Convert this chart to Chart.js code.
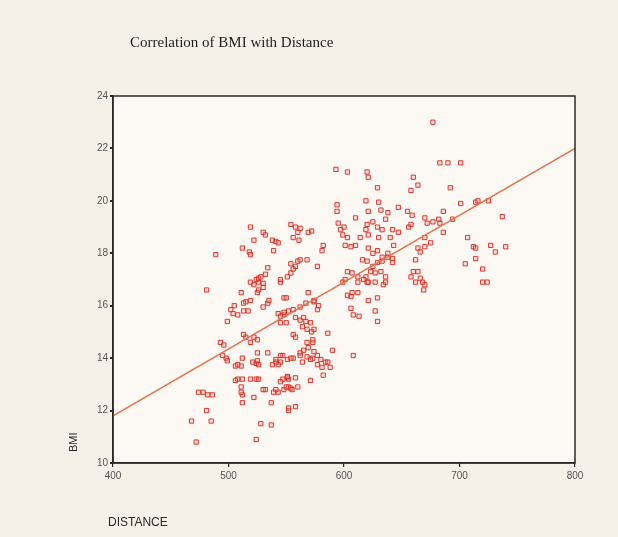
<!DOCTYPE html>
<html>
<head>
<meta charset="utf-8">
<script src="https://cdn.jsdelivr.net/npm/chart.js@4.4.0/dist/chart.umd.min.js"></script>
<style>
  html, body { margin: 0; padding: 0; background: #f6f1e8; }
  #wrap { position: relative; width: 618px; height: 537px; }
  canvas { display: block; }
</style>
</head>
<body>
<div id="wrap"><canvas id="c" width="618" height="537"></canvas></div>
<script>
const chartTitle = "Correlation of BMI with Distance";
const xAxisTitle = "DISTANCE";
const yAxisTitle = "BMI";
const xTicks = [400, 500, 600, 700, 800];
const yTicks = [10, 12, 14, 16, 18, 20, 22, 24];

const distance = [
  481,472,468,485,481,474,478,482,486,493,496,498,499,506,511,508,512,511,512,512,
  522,521,524,526,525,519,524,526,515,519,525,525,534,512,532,537,528,537,524,543,
  548,552,545,543,551,547,552,552,543,548,545,499,505,504,508,515,519,517,530,534,
  535,519,526,525,530,545,
  599,603,607,606,612,621,629,634,627,620,606,608,613,627,629,569,574,577,567,562,
  548,552,556,545,550,562,567,564,571,574,556,586,590,608,568,573,569,565,574,562,
  568,573,577,580,584,588,581,577,582,556,551,547,551,558,560,554,571,552,
  519,530,532,522,538,541,543,539,554,558,562,560,569,561,556,512,518,519,489,534,
  532,545,554,560,562,568,558,554,551,556,524,526,530,522,577,
  593,603,620,621,660,664,658,629,619,630,594,594,610,621,632,638,625,636,647,655,
  659,670,672,658,656,595,600,597,599,603,620,629,633,619,642,614,621,630,640,647,
  601,606,610,621,625,629,633,638,642,643,664,666,670,662,582,581,572,616,620,625,
  629,633,638,642,623,627,619,632,636,603,607,612,617,621,636,612,601,658,664,666,
  662,670,
  677,683,690,701,692,701,714,716,725,737,686,677,682,683,694,686,670,675,707,712,
  714,727,731,740,705,714,720,720,724,660,668,669,
  548,574,578,558,568,572,558,573,562,564,571,586,541,538,554,545,550,541,
  513,522,495,508,506,511,545,541,530,539,555,558,
  528,526,511,513,502,513,550,565
];
const bmi = [
  16.6,10.8,11.6,11.6,12.0,12.7,12.7,12.6,12.6,14.6,14.5,14.0,13.9,13.7,13.7,13.2,13.2,12.9,12.6,12.3,
  12.5,13.85,13.8,13.75,13.9,13.2,13.2,13.2,14.8,14.6,14.7,14.2,14.2,14.0,12.8,12.3,11.5,11.45,10.9,12.7,
  12.8,12.9,13.85,13.75,13.25,13.2,13.2,12.0,15.7,15.65,15.6,15.4,16.0,15.7,15.65,16.15,16.2,15.8,15.95,16.1,
  16.2,16.9,16.9,16.5,16.7,16.9,
  16.9,16.4,16.5,16.35,16.5,16.2,16.3,16.8,16.9,16.9,15.9,15.65,15.6,15.8,15.4,16.5,16.2,15.85,16.1,15.95,
  15.75,15.8,15.85,15.35,15.35,15.45,15.4,15.2,15.35,15.1,14.9,14.95,14.3,14.1,14.6,14.6,14.4,14.3,14.25,14.1,
  14.05,14.0,14.1,13.95,13.85,13.65,13.65,13.75,13.35,14.0,13.95,14.1,13.3,13.25,12.9,12.85,13.15,12.1,
  19.0,18.8,18.7,18.5,18.5,18.45,18.4,18.1,19.1,19.0,18.95,18.8,18.8,18.5,18.6,18.2,18.05,17.95,17.95,17.45,
  17.2,17.0,17.6,17.7,17.75,17.75,17.5,17.25,17.1,17.4,17.0,17.05,16.85,16.8,17.5,
  21.2,21.1,21.1,20.9,20.9,20.6,20.4,20.5,20.0,19.95,19.85,19.6,19.35,19.6,19.65,19.55,19.2,19.3,19.75,19.6,
  19.45,19.35,19.15,19.1,19.0,19.15,19.0,18.9,18.7,18.6,19.1,19.0,18.9,18.9,18.9,18.6,18.7,18.6,18.6,18.8,
  18.3,18.25,18.3,18.2,18.0,18.1,17.85,18.0,17.8,18.3,18.2,18.05,18.25,17.75,18.3,18.1,18.85,17.75,17.7,17.5,
  17.65,17.7,17.85,17.65,17.3,17.25,17.1,17.3,17.1,17.3,17.25,17.1,17.0,16.9,16.9,16.9,17.0,17.1,17.3,17.05,
  16.9,16.8,
  23.0,21.45,21.45,21.45,20.5,19.9,19.95,20.0,20.0,19.4,19.6,19.2,19.3,19.15,19.3,18.8,18.6,18.4,18.6,18.25,
  18.2,18.3,18.05,18.25,17.6,17.8,17.4,16.9,16.9,17.3,16.9,16.6,
  16.3,16.15,16.0,15.55,15.1,15.0,14.8,14.7,14.2,13.85,13.95,13.85,13.95,13.75,14.0,13.1,12.9,12.8,
  14.9,14.8,14.1,13.75,13.15,12.7,14.1,13.85,12.8,12.7,12.8,12.15,
  17.1,16.6,16.5,16.1,15.85,15.8,16.3,15.55
];

// regression line end points
const fitX = [400, 800];
const fitY = [11.8, 22.0];

const points = distance.map((d, i) => ({ x: d, y: bmi[i] }));
const fitLine = fitX.map((d, i) => ({ x: d, y: fitY[i] }));

const decor = {
  id: 'decor',
  beforeDraw(chart) {
    const { ctx, chartArea: a } = chart;
    ctx.save();
    ctx.fillStyle = '#fcf9f4';
    ctx.fillRect(a.left, a.top, a.right - a.left, a.bottom - a.top);
    ctx.restore();
  },
  afterDraw(chart) {
    const { ctx, chartArea: a } = chart;
    ctx.save();
    ctx.strokeStyle = '#2a2a2a';
    ctx.lineWidth = 1.5;
    ctx.strokeRect(a.left, a.top, a.right - a.left, a.bottom - a.top);
    ctx.fillStyle = '#1e1e1e';
    ctx.font = '15px "Liberation Serif"';
    ctx.textBaseline = 'alphabetic';
    ctx.textAlign = 'left';
    ctx.fillText(chartTitle, 130, 47);
    ctx.fillStyle = '#2a2a2a';
    ctx.font = '12px "Liberation Sans"';
    ctx.fillText(xAxisTitle, 108, 526);
    ctx.translate(77, 452);
    ctx.rotate(-Math.PI / 2);
    ctx.font = '11px "Liberation Sans"';
    ctx.fillText(yAxisTitle, 0, 0);
    ctx.restore();
  }
};

new Chart(document.getElementById('c'), {
  type: 'scatter',
  data: {
    datasets: [
      {
        type: 'scatter',
        data: points,
        pointStyle: 'rect',
        pointRadius: 3,
        pointBorderWidth: 1,
        borderColor: 'rgba(215,40,30,0.9)',
        backgroundColor: 'rgba(248,160,150,0.3)',
        order: 2
      },
      {
        type: 'line',
        data: fitLine,
        borderColor: '#e8724e',
        borderWidth: 1.6,
        pointRadius: 0,
        fill: false,
        order: 1
      }
    ]
  },
  options: {
    responsive: false,
    animation: false,
    devicePixelRatio: 1,
    layout: { padding: { left: 73, right: 43, top: 96, bottom: 44 } },
    plugins: { legend: { display: false }, tooltip: { enabled: false } },
    scales: {
      x: {
        type: 'linear',
        min: 400, max: 800,
        afterFit(s) { s.height = 30; },
        afterBuildTicks(s) { s.ticks = xTicks.map(v => ({ value: v })); },
        grid: { display: true, drawOnChartArea: false, drawTicks: true, tickLength: 4, color: '#2a2a2a', lineWidth: 1.2 },
        border: { display: true, color: '#2a2a2a', width: 1.5 },
        ticks: { color: '#555', font: { family: 'Liberation Sans', size: 10 }, padding: 3, maxRotation: 0 }
      },
      y: {
        type: 'linear',
        min: 10, max: 24,
        afterFit(s) { s.width = 40; },
        afterBuildTicks(s) { s.ticks = yTicks.map(v => ({ value: v })); },
        grid: { display: true, drawOnChartArea: false, drawTicks: true, tickLength: 3, color: '#2a2a2a', lineWidth: 2 },
        border: { display: true, color: '#2a2a2a', width: 1.5 },
        ticks: { color: '#555', font: { family: 'Liberation Sans', size: 10 }, padding: 2 }
      }
    }
  },
  plugins: [decor]
});
</script>
</body>
</html>
